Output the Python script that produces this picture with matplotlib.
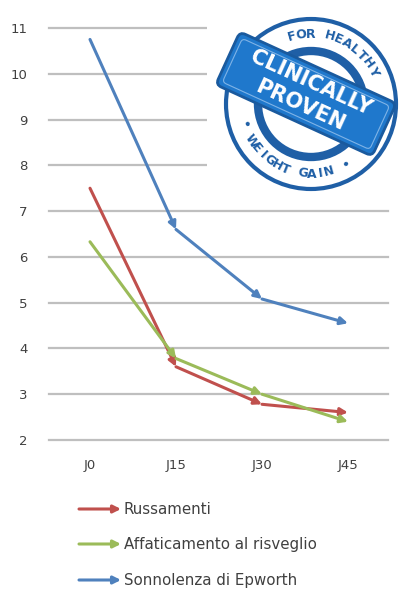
import numpy as np
import matplotlib
matplotlib.use("Agg")
import matplotlib.pyplot as plt
from matplotlib.patches import Circle, FancyBboxPatch, Rectangle
import matplotlib.transforms as mtransforms

# data
days = ["J0", "J15", "J30", "J45"]
russamenti = [7.5, 3.6, 2.78, 2.6]
affaticamento = [6.33, 3.78, 3.0, 2.4]
sonnolenza = [10.75, 6.6, 5.08, 4.55]
series_names = ["Russamenti", "Affaticamento al risveglio", "Sonnolenza di Epworth"]
yticks = list(range(2, 12))

colors = ["#C0504D", "#9BBB59", "#4F81BD"]
W, H = 402, 589

fig = plt.figure(figsize=(W / 100, H / 100), dpi=100)
fig.patch.set_facecolor("white")

# main chart, placed in pixel terms
def px_axes(x0, y0, x1, y1, **kw):
    return fig.add_axes([x0 / W, 1 - y1 / H, (x1 - x0) / W, (y1 - y0) / H], **kw)

ax = px_axes(47, 28, 391, 440)
ax.set_xlim(-0.5, 3.5)
ax.set_ylim(2, 11)
for s in ax.spines.values():
    s.set_visible(False)
for t in yticks:
    ax.axhline(t, xmin=0.005, xmax=0.99, color="#BFBFBF", lw=1.6, clip_on=False, zorder=0)
ax.set_yticks(yticks)
ax.set_xticks(range(len(days)))
ax.set_xticklabels(days)
ax.tick_params(length=0, labelsize=9.5, colors="#404040")
ax.tick_params(axis="y", pad=14)
ax.tick_params(axis="x", pad=14)

x = np.arange(len(days))
for vals, c in zip([russamenti, affaticamento, sonnolenza], colors):
    for i in range(len(vals) - 1):
        ax.annotate("", xy=(x[i + 1], vals[i + 1]), xytext=(x[i], vals[i]),
                    arrowprops=dict(arrowstyle="-|>", color=c, lw=2.2,
                                    mutation_scale=11, shrinkA=0, shrinkB=0),
                    annotation_clip=False)

# overlay in pixel coords (y up) for legend and badge
ov = fig.add_axes([0, 0, 1, 1])
ov.set_xlim(0, W)
ov.set_ylim(0, H)
ov.set_aspect("equal")
ov.axis("off")

leg_y = [509, 544, 580]
for name, c, yy in zip(series_names, colors, leg_y):
    ov.annotate("", xy=(121, H - yy), xytext=(79, H - yy),
                arrowprops=dict(arrowstyle="-|>", color=c, lw=2.2,
                                mutation_scale=11, shrinkA=0, shrinkB=0))
    ov.text(124, H - yy, name, fontsize=10.8, color="#404040", va="center", ha="left")

# "clinically proven" stamp on a white patch
ov.add_patch(Rectangle((207, H - 196), W - 207, 196, fc="white", ec="none", zorder=4))
cx, cy = 311, H - 104
dark = "#1f5fa6"
ov.add_patch(Circle((cx, cy), 85, fill=False, ec=dark, lw=3, zorder=5))
ov.add_patch(Circle((cx, cy), 53, fill=False, ec=dark, lw=6, zorder=5))

def arc_text(txt, r, a0, a1, top=True, size=9):
    angs = np.linspace(a0, a1, len(txt))
    for ch, a in zip(txt, angs):
        ar = np.deg2rad(a)
        rot = a - 90 if top else a + 90
        ov.text(cx + r * np.cos(ar), cy + r * np.sin(ar), ch, rotation=rot,
                ha="center", va="center", fontsize=size, fontweight="bold",
                color=dark, zorder=6, rotation_mode="anchor")

arc_text("FOR HEALTHY", 70, 106, 28, top=True)
arc_text("• WEIGHT GAIN •", 70, 197, 300, top=False)

bx, by, bw, bh, ang = 306, H - 94, 172, 58, -24.6
band = FancyBboxPatch((bx - bw / 2, by - bh / 2), bw, bh,
                      boxstyle="round,pad=0,rounding_size=6",
                      fc="#1f78cc", ec="#1a5a9e", lw=2, zorder=7)
band.set_transform(mtransforms.Affine2D().rotate_deg_around(bx, by, ang) + ov.transData)
ov.add_patch(band)
inner = FancyBboxPatch((bx - bw / 2 + 5, by - bh / 2 + 5), bw - 10, bh - 10,
                       boxstyle="round,pad=0,rounding_size=4",
                       fc="none", ec="#7fb3e6", lw=0.8, zorder=7)
inner.set_transform(mtransforms.Affine2D().rotate_deg_around(bx, by, ang) + ov.transData)
ov.add_patch(inner)

pa = np.deg2rad(ang + 90)
for txt, off in [("CLINICALLY", 12), ("PROVEN", -13)]:
    ov.text(bx + off * np.cos(pa), by + off * np.sin(pa), txt, rotation=ang,
            rotation_mode="anchor", ha="center", va="center", fontsize=15,
            fontweight="bold", color="white", zorder=8)

fig.savefig("out.png", dpi=100)
